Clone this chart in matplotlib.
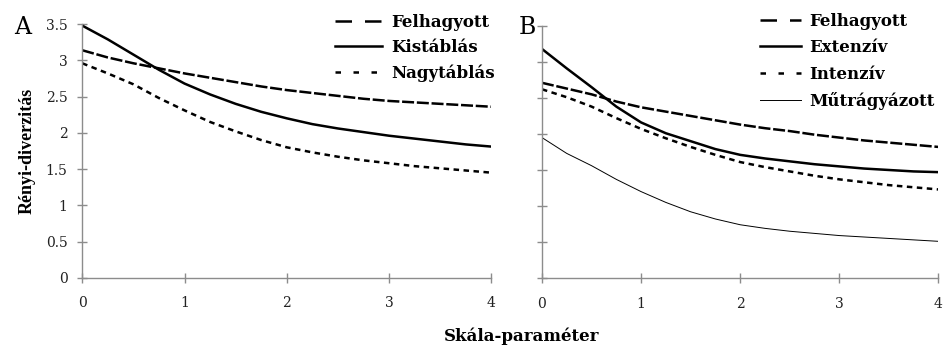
import matplotlib
matplotlib.use("Agg")
import matplotlib.pyplot as plt
from matplotlib.lines import Line2D

plt.rcParams['font.family'] = ['DejaVu Serif']

# Scale parameter values
scale = [0, 0.25, 0.5, 0.75, 1, 1.25, 1.5, 1.75, 2, 2.25, 2.5, 2.75, 3, 3.25, 3.5, 3.75, 4]

# Panel A
a_labels = ['Felhagyott', 'Kistáblás', 'Nagytáblás']
a_felhagyott = [3.14, 3.04, 2.96, 2.89, 2.82, 2.76, 2.70, 2.64, 2.59, 2.55, 2.51, 2.47, 2.44, 2.42, 2.40, 2.38, 2.36]
a_kistablas = [3.48, 3.29, 3.08, 2.87, 2.68, 2.53, 2.40, 2.29, 2.20, 2.12, 2.06, 2.01, 1.96, 1.92, 1.88, 1.84, 1.81]
a_nagytablas = [2.96, 2.82, 2.67, 2.48, 2.31, 2.15, 2.02, 1.90, 1.80, 1.73, 1.67, 1.62, 1.58, 1.54, 1.51, 1.48, 1.45]

# Panel B
b_labels = ['Felhagyott', 'Extenzív', 'Intenzív', 'Műtrágyázott']
b_felhagyott = [2.71, 2.63, 2.55, 2.45, 2.37, 2.31, 2.25, 2.19, 2.13, 2.08, 2.04, 1.99, 1.95, 1.91, 1.88, 1.85, 1.82]
b_extenziv = [3.18, 2.91, 2.65, 2.38, 2.16, 2.01, 1.90, 1.79, 1.71, 1.66, 1.62, 1.58, 1.55, 1.52, 1.50, 1.48, 1.47]
b_intenziv = [2.62, 2.51, 2.38, 2.22, 2.07, 1.94, 1.82, 1.71, 1.61, 1.54, 1.48, 1.42, 1.37, 1.33, 1.29, 1.26, 1.23]
b_mutragyazott = [1.95, 1.73, 1.56, 1.37, 1.20, 1.05, 0.92, 0.82, 0.74, 0.69, 0.65, 0.62, 0.59, 0.57, 0.55, 0.53, 0.51]

yticks = [0, 0.5, 1, 1.5, 2, 2.5, 3, 3.5]
ytick_labels = ['0', '0.5', '1', '1.5', '2', '2.5', '3', '3.5']
xticks = [0, 1, 2, 3, 4]

LW = 1.8
long_dash = dict(color='black', lw=LW, dashes=(4.8, 1.1))
solid = dict(color='black', lw=LW)
short_dash = dict(color='black', lw=LW, dashes=(2.2, 1.8))
thin = dict(color='black', lw=0.7)

# legend samples use wider dash spacing than the curves
leg_long = Line2D([], [], color='black', lw=LW, dashes=(6.6, 5.2))
leg_solid = Line2D([], [], color='black', lw=LW)
leg_short = Line2D([], [], color='black', lw=LW, dashes=(2.2, 5.0))
leg_thin = Line2D([], [], color='black', lw=0.7)

fig = plt.figure(figsize=(9.45, 3.45), dpi=100)
axA = fig.add_axes([0.087, 0.195, 0.433, 0.735])
axB = fig.add_axes([0.5735, 0.194, 0.4195, 0.731])


def style_axis(ax, show_ylabels):
    for side in ['top', 'right']:
        ax.spines[side].set_visible(False)
    for side in ['left', 'bottom']:
        ax.spines[side].set_color('#8c8c8c')
        ax.spines[side].set_linewidth(1.0)
    ax.set_xlim(0, 4)
    ax.set_ylim(0, 3.5)
    ax.set_xticks(xticks)
    ax.set_yticks(yticks)
    if show_ylabels:
        ax.set_yticklabels(ytick_labels)
    else:
        ax.set_yticklabels([])
    ax.tick_params(axis='both', direction='inout', length=7, width=1.0,
                   color='#8c8c8c', labelsize=10, labelcolor='#222222')
    ax.tick_params(axis='x', pad=10)
    ax.tick_params(axis='y', pad=7)


axA.plot(scale, a_felhagyott, **long_dash)
axA.plot(scale, a_kistablas, **solid)
axA.plot(scale, a_nagytablas, **short_dash)
style_axis(axA, True)
axA.set_ylabel('Rényi-diverzitás', family='Liberation Serif', fontsize=13,
               fontweight='bold', labelpad=7)
axA.legend([leg_long, leg_solid, leg_short], a_labels,
           loc='upper left', bbox_to_anchor=(335 / 945, 1 - 14 / 345),
           bbox_transform=fig.transFigure, frameon=False, handlelength=2.8,
           handletextpad=0.55, labelspacing=0.5, borderpad=0, borderaxespad=0,
           prop={'weight': 'bold', 'size': 12})

axB.plot(scale, b_felhagyott, **long_dash)
axB.plot(scale, b_extenziv, **solid)
axB.plot(scale, b_intenziv, **short_dash)
axB.plot(scale, b_mutragyazott, **thin)
style_axis(axB, False)
axB.legend([leg_long, leg_solid, leg_short, leg_thin], b_labels,
           loc='upper left', bbox_to_anchor=(760 / 945, 1 - 13 / 345),
           bbox_transform=fig.transFigure, frameon=False, handlelength=2.45,
           handletextpad=0.5, labelspacing=0.56, borderpad=0, borderaxespad=0,
           prop={'weight': 'bold', 'size': 12})

fig.text(23 / 945, 1 - 27 / 345, 'A', fontsize=17, va='center', ha='center')
fig.text(527 / 945, 1 - 27 / 345, 'B', fontsize=17, va='center', ha='center')
fig.text(522 / 945, 1 - 336 / 345, 'Skála-paraméter', fontsize=12,
         fontweight='bold', ha='center', va='center')

fig.savefig('out.png', dpi=100)
